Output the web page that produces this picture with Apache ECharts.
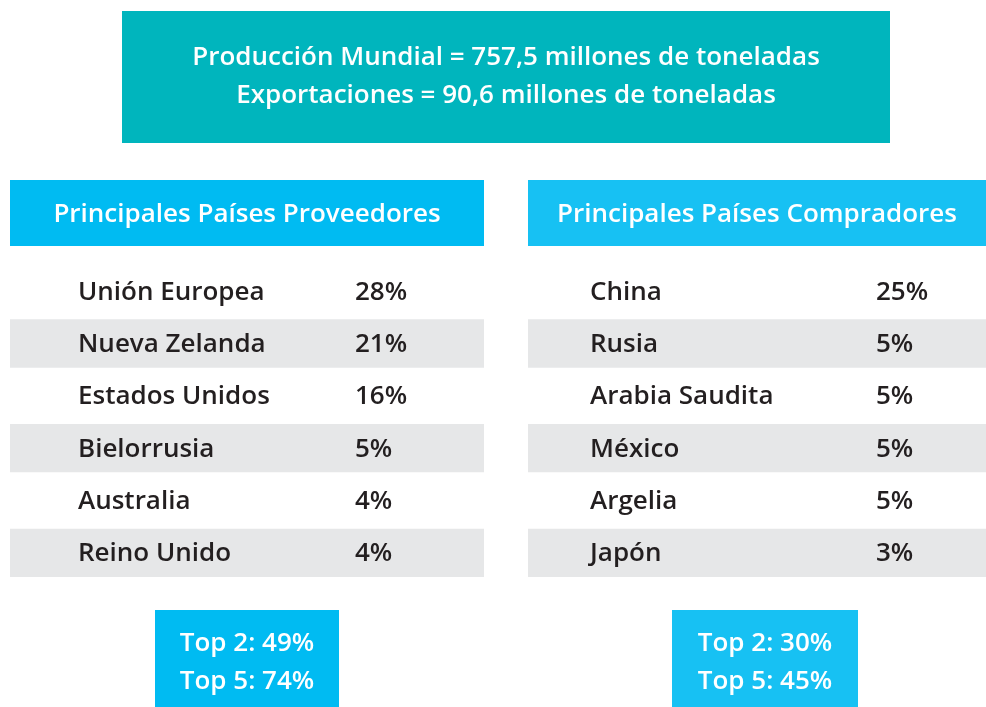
<!DOCTYPE html>
<html>
<head>
<meta charset="utf-8">
<script src="https://cdn.jsdelivr.net/npm/echarts@6/dist/echarts.min.js"></script>
<style>
  html, body { margin: 0; padding: 0; background: #fff; }
  #chart { width: 986px; height: 707px; }
</style>
</head>
<body>
<div id="chart"></div>
<script>
// datos
const produccionMundial = '757,5';
const exportaciones = '90,6';

const proveedores = ['Unión Europea', 'Nueva Zelanda', 'Estados Unidos', 'Bielorrusia', 'Australia', 'Reino Unido'];
const proveedoresPct = [28, 21, 16, 5, 4, 4];
const proveedoresTop = ['Top 2: 49%', 'Top 5: 74%'];

const compradores = ['China', 'Rusia', 'Arabia Saudita', 'México', 'Argelia', 'Japón'];
const compradoresPct = [25, 5, 5, 5, 5, 3];
const compradoresTop = ['Top 2: 30%', 'Top 5: 45%'];

const FONT = '"Open Sans", "Noto Sans", sans-serif';
const TEXT_DARK = '#231F20';
const GRAY = '#E6E7E8';

const chart = echarts.init(document.getElementById('chart'));

// cada tabla: columna nombre + columna porcentaje, filas alternas grises
function tableSeries(idx, names, pcts, nameOffset, pctOffset) {
    return {
        type: 'custom',
        xAxisIndex: idx,
        yAxisIndex: idx,
        data: names.map((n, i) => [0, i, pcts[i]]),
        renderItem: function (params, api) {
            const i = api.value(1);
            const center = api.coord([0, i]);
            const band = api.size([0, 1])[1];
            const left = params.coordSys.x;
            const width = params.coordSys.width;
            const children = [];
            if (i % 2 === 1) {
                children.push({
                    type: 'rect',
                    shape: { x: left, y: center[1] - band / 2 + 2, width: width, height: band - 4 },
                    style: { fill: GRAY }
                });
            }
            children.push({
                type: 'text',
                style: {
                    text: names[i], x: left + nameOffset, y: center[1] + 1,
                    fill: TEXT_DARK, font: '600 26px ' + FONT,
                    verticalAlign: 'middle', align: 'left'
                }
            });
            children.push({
                type: 'text',
                style: {
                    text: api.value(2) + '%', x: left + pctOffset, y: center[1] + 1,
                    fill: TEXT_DARK, font: '600 26px ' + FONT,
                    verticalAlign: 'middle', align: 'left'
                }
            });
            return { type: 'group', children: children };
        }
    };
}

function box(x, y, w, h, color, lines, font, lineH, dy) {
    return {
        type: 'group',
        children: [
            { type: 'rect', shape: { x: x, y: y, width: w, height: h }, style: { fill: color } },
            {
                type: 'text',
                style: {
                    text: lines.join('\n'), x: x + w / 2, y: y + h / 2 + (dy || 0),
                    align: 'center', verticalAlign: 'middle',
                    fill: '#fff', font: font, lineHeight: lineH
                }
            }
        ]
    };
}

const option = {
    animation: false,
    grid: [
        { left: 10, top: 265, width: 474, height: 314 },
        { left: 528, top: 265, width: 458, height: 314 }
    ],
    xAxis: [
        { gridIndex: 0, type: 'value', min: 0, max: 1, show: false },
        { gridIndex: 1, type: 'value', min: 0, max: 1, show: false }
    ],
    yAxis: [
        { gridIndex: 0, type: 'category', data: proveedores, inverse: true, show: false },
        { gridIndex: 1, type: 'category', data: compradores, inverse: true, show: false }
    ],
    graphic: [
        box(122, 11, 768, 132, '#00B5BD', [
            'Producción Mundial = ' + produccionMundial + ' millones de toneladas',
            'Exportaciones = ' + exportaciones + ' millones de toneladas'
        ], '600 26px ' + FONT, 38, 0),
        box(10, 180, 474, 66, '#00BBF2', ['Principales Países Proveedores'], '600 26px ' + FONT, 30, 2),
        box(528, 180, 458, 66, '#17C1F3', ['Principales Países Compradores'], '600 26px ' + FONT, 30, 2),
        box(155, 610, 184, 97, '#00BBF2', proveedoresTop, '600 26px ' + FONT, 38, 4),
        box(672, 610, 186, 97, '#17C1F3', compradoresTop, '600 26px ' + FONT, 38, 4)
    ],
    series: [
        tableSeries(0, proveedores, proveedoresPct, 68, 345),
        tableSeries(1, compradores, compradoresPct, 62, 348)
    ]
};

chart.setOption(option);
</script>
</body>
</html>
